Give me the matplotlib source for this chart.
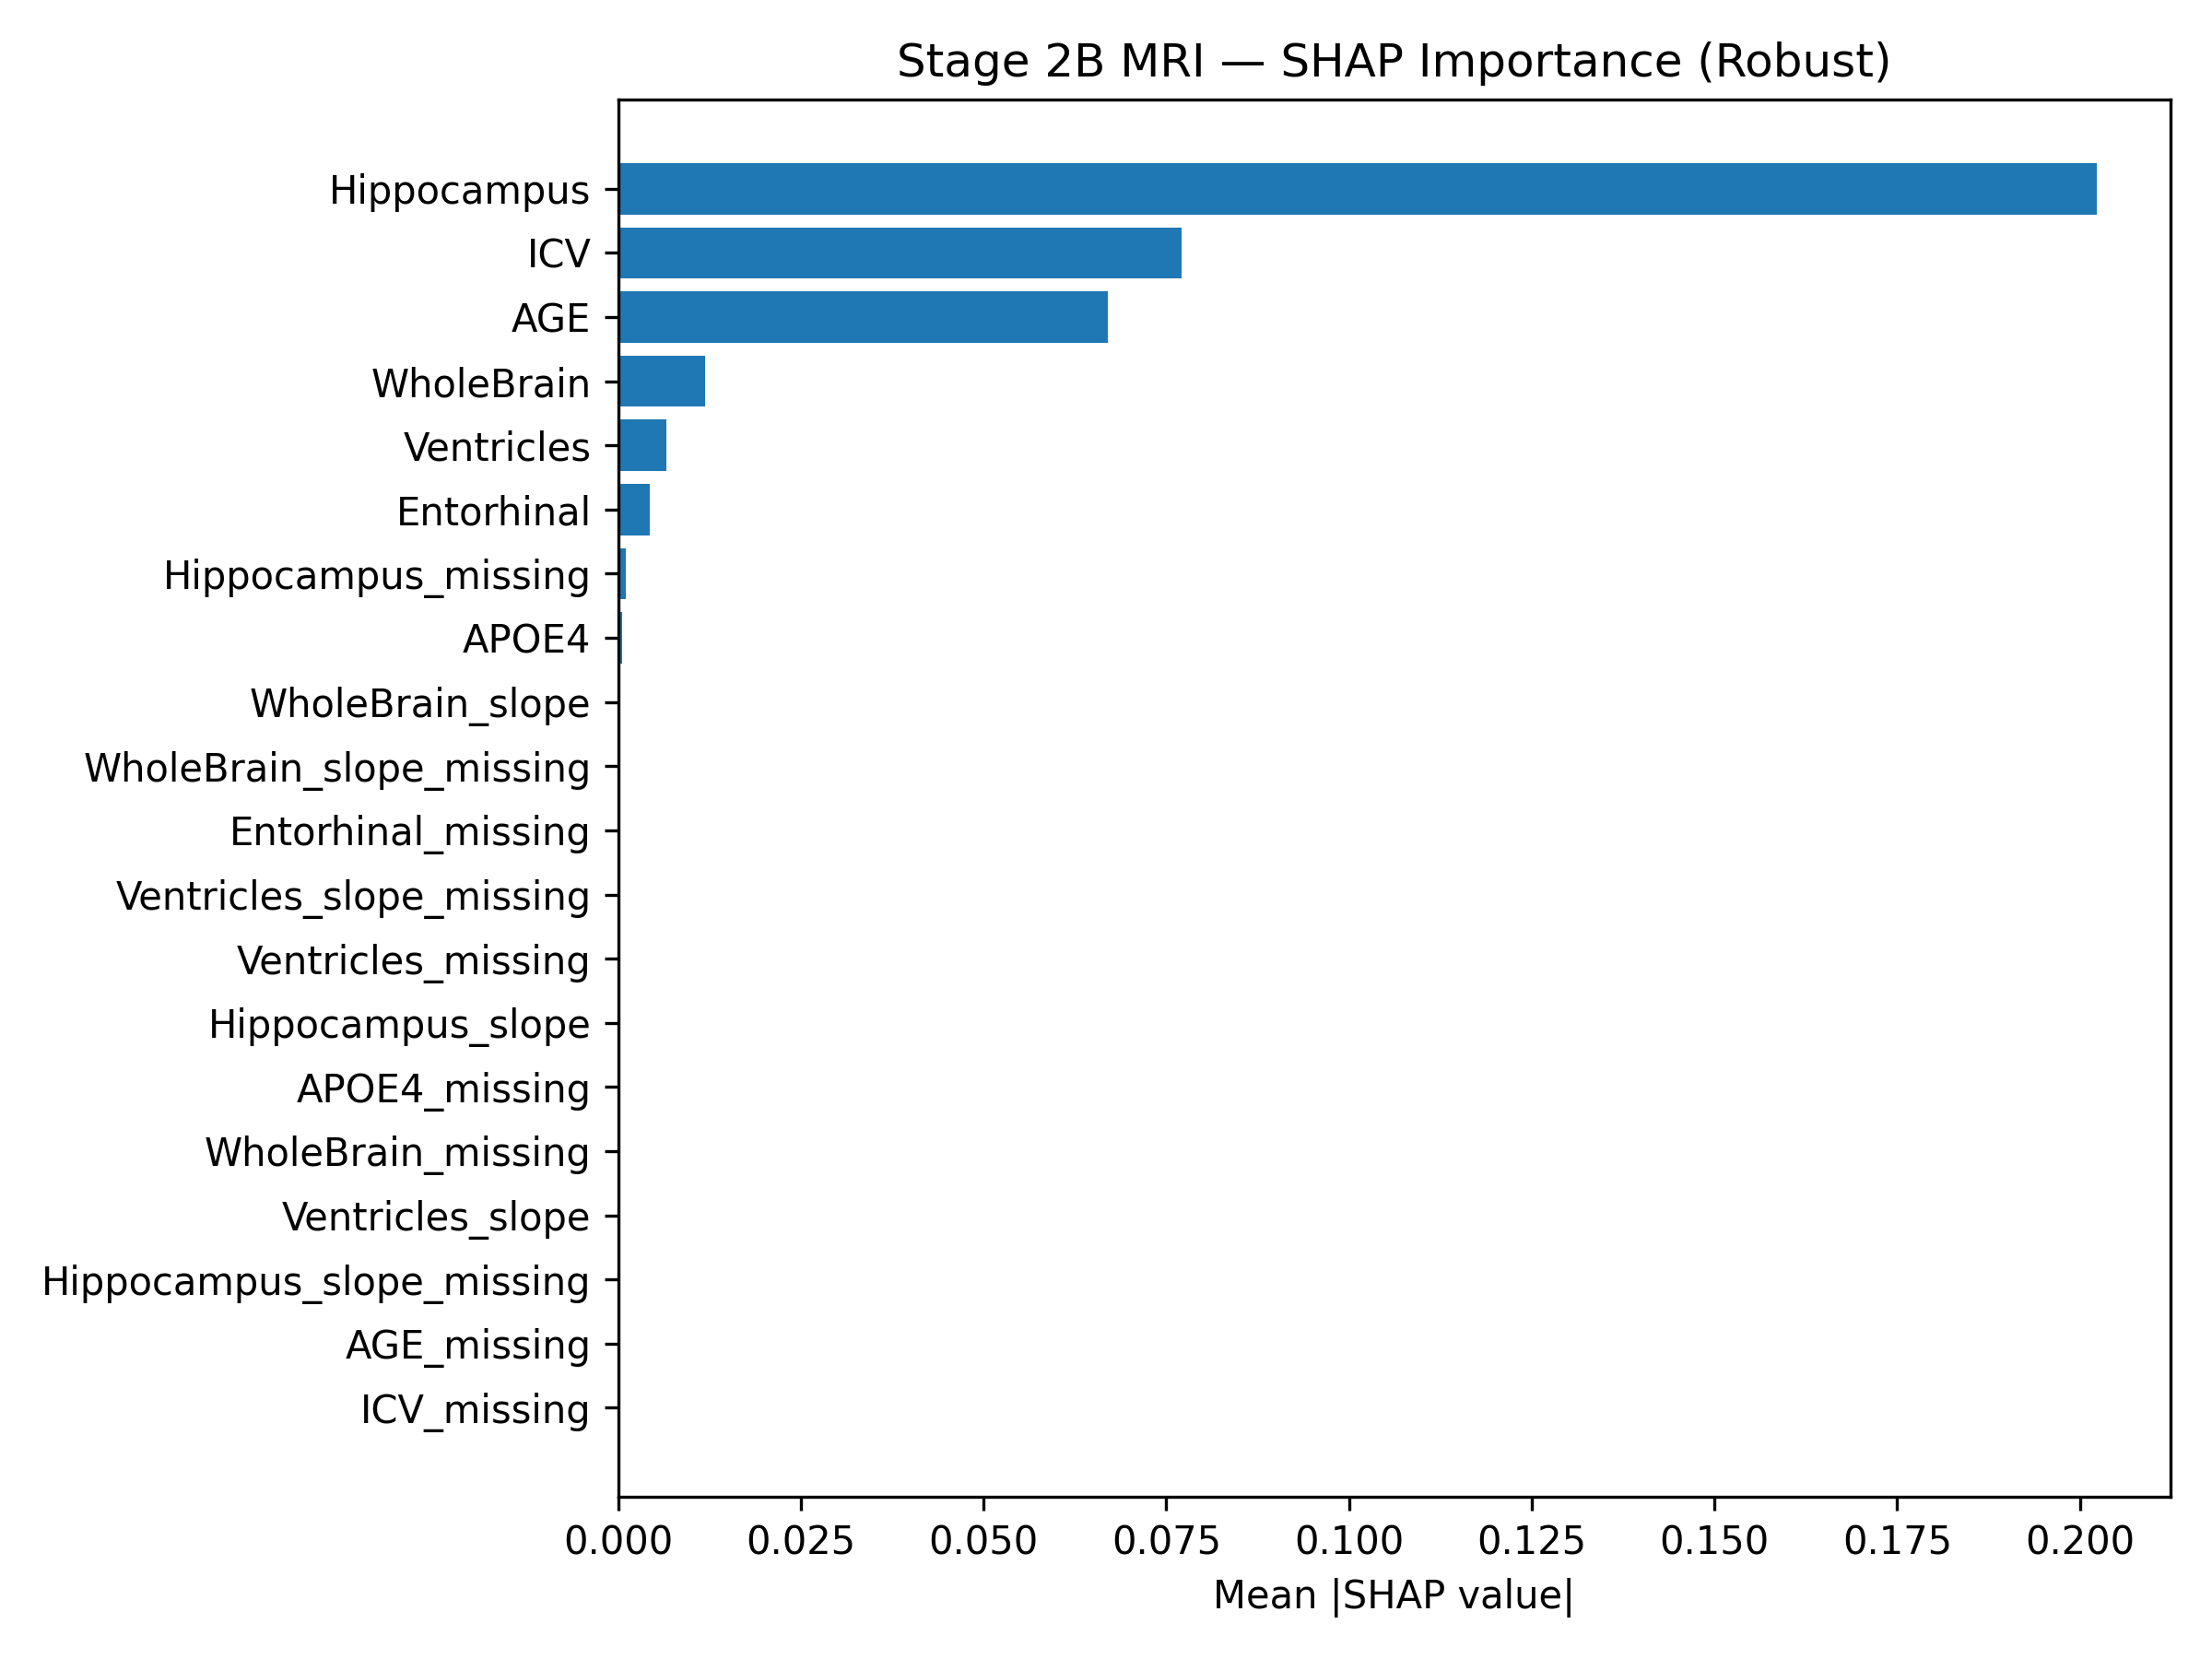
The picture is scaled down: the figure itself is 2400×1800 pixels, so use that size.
import matplotlib
matplotlib.use("Agg")
import matplotlib.pyplot as plt

features = [
    "Hippocampus", "ICV", "AGE", "WholeBrain", "Ventricles", "Entorhinal",
    "Hippocampus_missing", "APOE4", "WholeBrain_slope", "WholeBrain_slope_missing",
    "Entorhinal_missing", "Ventricles_slope_missing", "Ventricles_missing",
    "Hippocampus_slope", "APOE4_missing", "WholeBrain_missing", "Ventricles_slope",
    "Hippocampus_slope_missing", "AGE_missing", "ICV_missing",
]
values = [
    0.2023, 0.0771, 0.0670, 0.0119, 0.0066, 0.0043,
    0.0010, 0.0006, 0.0, 0.0,
    0.0, 0.0, 0.0,
    0.0, 0.0, 0.0, 0.0,
    0.0, 0.0, 0.0,
]

fig, ax = plt.subplots(figsize=(8, 6), dpi=300)
ax.barh(features[::-1], values[::-1], color="#1f77b4")
ax.set_xlabel("Mean |SHAP value|")
ax.set_title("Stage 2B MRI \u2014 SHAP Importance (Robust)")
fig.tight_layout()
fig.savefig("out.png", dpi=300)
